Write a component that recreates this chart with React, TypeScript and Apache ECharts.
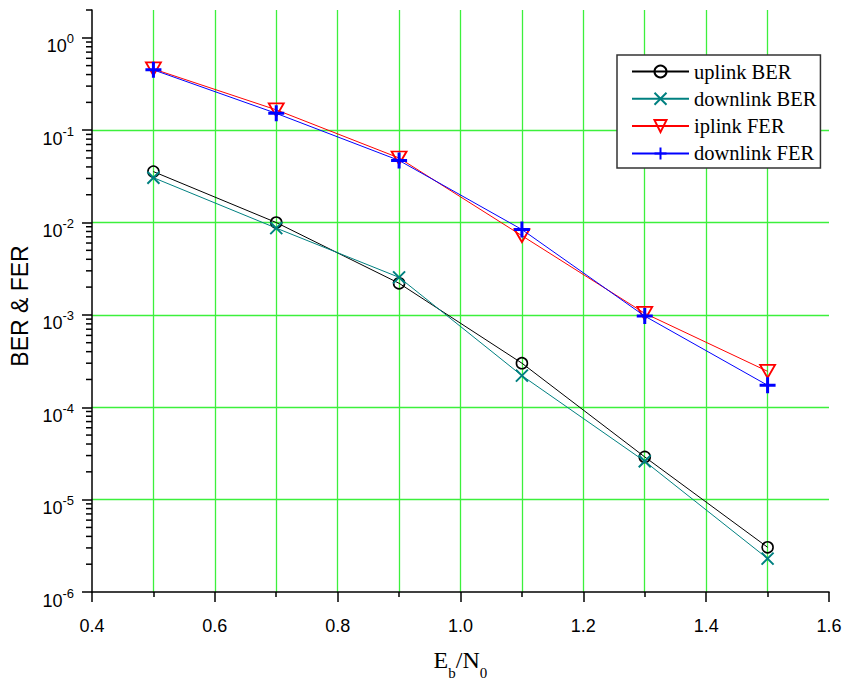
import React, { useEffect, useRef } from 'react';
import * as echarts from 'echarts';

const ebn0 = [0.5, 0.7, 0.9, 1.1, 1.3, 1.5];
const uplinkBER = [0.0356, 0.0100, 0.0022, 3.0e-4, 2.9e-5, 3.05e-6];
const downlinkBER = [0.0306, 0.0087, 0.00255, 2.2e-4, 2.6e-5, 2.3e-6];
const iplinkFER = [0.46, 0.166, 0.050, 0.0072, 1.04e-3, 2.45e-4];
const downlinkFER = [0.45, 0.152, 0.047, 0.0084, 0.97e-3, 1.73e-4];
const seriesNames = ['uplink BER', 'downlink BER', 'iplink FER', 'downlink FER'];
const yMajorTicks = [1e-6, 1e-5, 1e-4, 1e-3, 1e-2, 1e-1, 1];
const yMinorMantissas = [2, 3, 4, 5, 6, 7, 8, 9];
const xMin = 0.4;
const xMax = 1.6;
const yMin = 1e-6;
const yMax = 2;

const yMinorTicks: number[] = [];
yMajorTicks.forEach((d) => {
  yMinorMantissas.forEach((m) => {
    const v = m * d;
    if (v <= yMax * 1.0001) yMinorTicks.push(v);
  });
});

const GRID_GREEN = '#3cf03c';
const SERIF = 'Liberation Serif, Times New Roman, serif';
const SANS = 'Arial, Liberation Sans, sans-serif';

export default function App() {
  const ref = useRef<HTMLDivElement>(null);
  useEffect(() => {
    if (!ref.current) return;
    const chart = echarts.init(ref.current, null, { renderer: 'svg' });
    const mk = (vals: number[]) => ebn0.map((x, i) => [x, vals[i]]);
    const axisBlack = { color: '#000', width: 1.5 };
    const gridStyle = { color: GRID_GREEN, width: 1.3, opacity: 1 };
    chart.setOption({
      animation: false,
      backgroundColor: '#fff',
      grid: { left: 92, right: 20, top: 10, bottom: 94, containLabel: false },
      legend: {
        data: seriesNames,
        orient: 'vertical',
        left: 617,
        top: 55,
        backgroundColor: '#fff',
        borderColor: '#333',
        borderWidth: 1.5,
        borderRadius: 0,
        padding: [6, 4, 4, 14],
        itemWidth: 57,
        itemHeight: 15,
        itemGap: 6.3,
        textStyle: { fontFamily: SERIF, fontSize: 20.5, color: '#000', lineHeight: 20 },
      },
      xAxis: {
        type: 'value',
        min: xMin,
        max: xMax,
        interval: 0.2,
        name: '{m|E}{s|b}{m|/N}{s|0}{h| }',
        nameLocation: 'middle',
        nameGap: 56,
        nameTextStyle: {
          rich: {
            m: { fontFamily: SERIF, fontSize: 24, lineHeight: 24, verticalAlign: 'top', color: '#000' },
            s: { fontFamily: SERIF, fontSize: 15, lineHeight: 15, verticalAlign: 'bottom', color: '#000' },
            h: { fontFamily: SERIF, fontSize: 1, lineHeight: 32, color: '#000' },
          },
        },
        axisLine: { show: true, onZero: false, lineStyle: axisBlack },
        axisTick: { show: true, length: 10, lineStyle: axisBlack },
        minorTick: { show: true, splitNumber: 2, length: 5, lineStyle: axisBlack },
        axisLabel: {
          margin: 25,
          fontFamily: SANS,
          fontSize: 18,
          color: '#000',
          formatter: (v: number) => v.toFixed(1),
        },
        splitLine: { show: true, showMinLine: false, showMaxLine: false, lineStyle: gridStyle },
        minorSplitLine: { show: true, lineStyle: gridStyle },
      },
      yAxis: {
        type: 'log',
        logBase: 10,
        min: yMin,
        max: yMax,
        name: 'BER & FER',
        nameLocation: 'middle',
        nameGap: 55,
        nameTextStyle: { fontFamily: SANS, fontSize: 23, color: '#000', padding: [0, 10, 0, 0] },
        axisLine: { show: true, lineStyle: axisBlack },
        axisTick: { show: true, length: 10, customValues: yMajorTicks, lineStyle: axisBlack },
        axisLabel: {
          customValues: yMajorTicks,
          margin: 18,
          padding: [12, 0, 0, 0],
          formatter: (v: number) => `{b|10}{s|${Math.round(Math.log10(v))}}`,
          rich: {
            b: { fontFamily: SANS, fontSize: 18, lineHeight: 23, verticalAlign: 'bottom', color: '#000' },
            s: { fontFamily: SANS, fontSize: 13, lineHeight: 13, verticalAlign: 'top', color: '#000' },
          },
        },
        splitLine: { show: true, showMinLine: false, showMaxLine: false, lineStyle: gridStyle },
      },
      series: [
        {
          type: 'custom',
          name: 'yMinorTicks',
          silent: true,
          clip: false,
          z: 5,
          data: yMinorTicks.map((v) => [xMin, v]),
          renderItem: (params: any, api: any) => {
            const p = api.coord([api.value(0), api.value(1)]);
            return {
              type: 'line',
              shape: { x1: p[0] - 6, y1: p[1], x2: p[0], y2: p[1] },
              style: { stroke: '#000', lineWidth: 1.5 },
            };
          },
        },
        {
          name: seriesNames[0],
          type: 'line',
          data: mk(uplinkBER),
          symbol: 'circle',
          symbolSize: 11,
          lineStyle: { color: '#000', width: 1 },
          itemStyle: { color: 'rgba(0,0,0,0)', borderColor: '#000', borderWidth: 1.6 },
          z: 2,
        },
        {
          name: seriesNames[1],
          type: 'line',
          data: mk(downlinkBER),
          symbol: 'path://M0,0L10,10M10,0L0,10',
          symbolSize: 12,
          lineStyle: { color: '#008080', width: 1 },
          itemStyle: { color: 'rgba(0,0,0,0)', borderColor: '#008080', borderWidth: 2 },
          z: 3,
        },
        {
          name: seriesNames[2],
          type: 'line',
          data: mk(iplinkFER),
          symbol: 'path://M0,0L10,0L5,8.66Z',
          symbolSize: [15, 13],
          lineStyle: { color: '#ff0000', width: 1 },
          itemStyle: { color: 'rgba(0,0,0,0)', borderColor: '#ff0000', borderWidth: 1.8 },
          z: 4,
        },
        {
          name: seriesNames[3],
          type: 'line',
          data: mk(downlinkFER),
          symbol: 'path://M5,0L5,10M0,5L10,5',
          symbolSize: 16,
          lineStyle: { color: '#0000ff', width: 1 },
          itemStyle: { color: 'rgba(0,0,0,0)', borderColor: '#0000ff', borderWidth: 3 },
          z: 5,
        },
      ],
    });
    return () => chart.dispose();
  }, []);
  return <div ref={ref} style={{ width: 849, height: 686, position: 'absolute', left: 0, top: 0 }} />;
}
